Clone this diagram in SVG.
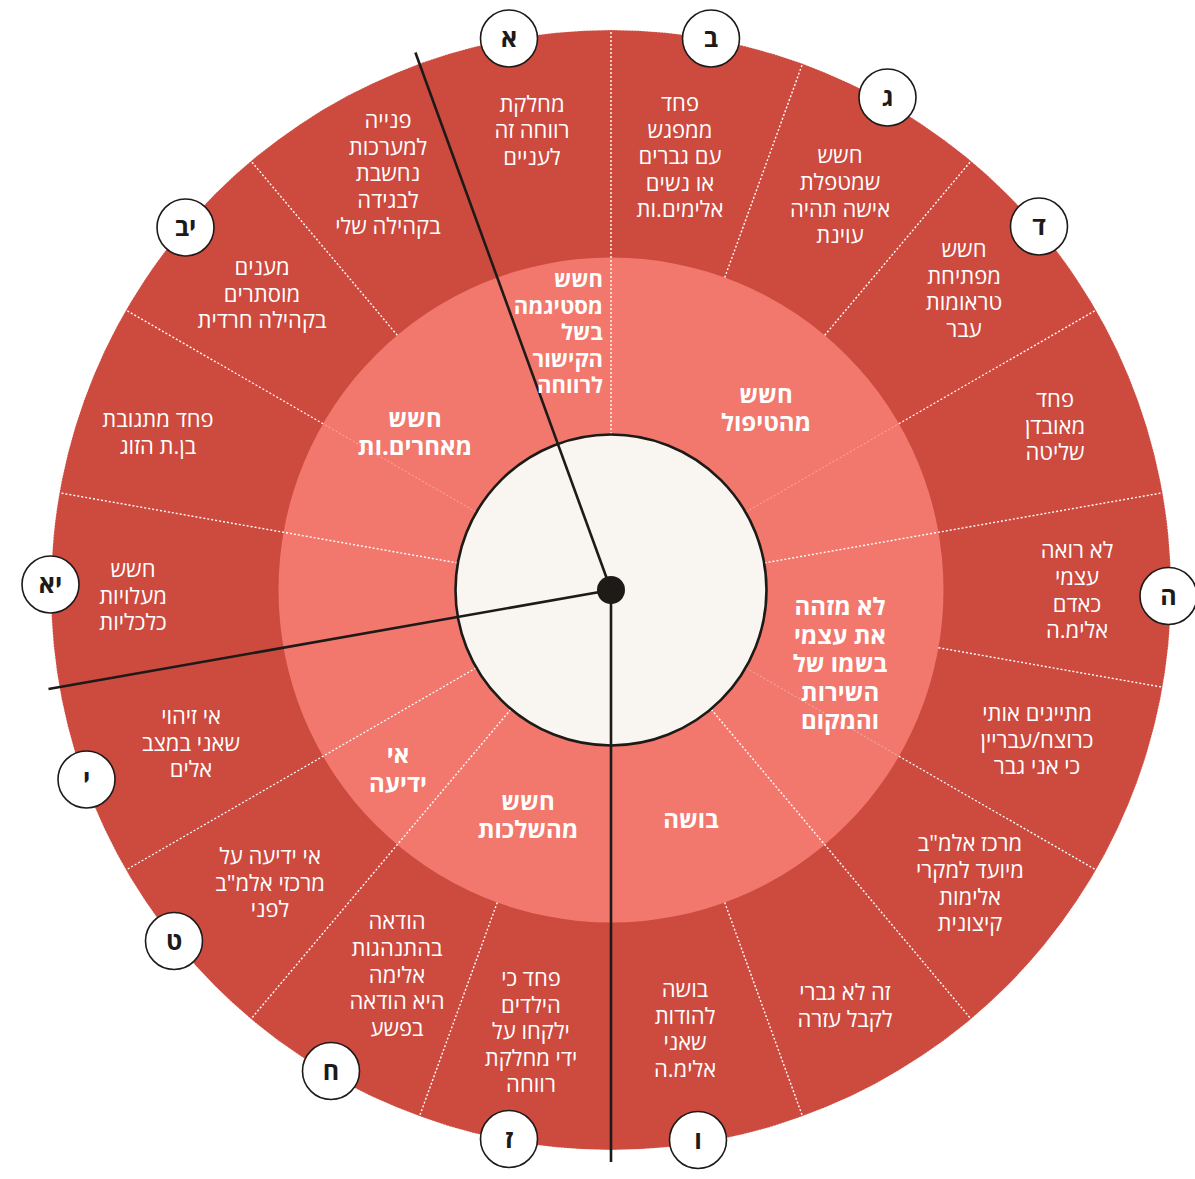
<svg xmlns="http://www.w3.org/2000/svg" width="1195" height="1179" viewBox="0 0 1195 1179">
<style>
.t{font-family:'Open Sans','Liberation Sans','DejaVu Sans',sans-serif;fill:#ffffff;text-anchor:middle}
.o{font-size:22px;font-weight:500}
.b{font-size:24px;font-weight:bold}
.s{font-size:22px}
.dv{stroke:#ffffff;stroke-width:1.4;stroke-dasharray:2 2;fill:none}
.fa{stroke:#ffffff;stroke-opacity:0.4;stroke-width:1;stroke-dasharray:2 2;fill:none}
.hand{stroke:#1d1a17;stroke-width:2.6;fill:none;stroke-linecap:butt}
.lc{fill:#ffffff;stroke:#1d1a17;stroke-width:1.6}
.lt{font-family:'Open Sans','Liberation Sans','DejaVu Sans',sans-serif;font-weight:bold;font-size:25px;fill:#1d1a17;text-anchor:middle}
</style>
<rect width="1195" height="1179" fill="#ffffff"/>
<g id="rings">
<circle cx="611" cy="590" r="560" fill="#cd4a3f"/>
<circle cx="611" cy="590" r="560" fill="none" stroke="#ffffff" stroke-width="1" stroke-dasharray="1 2" stroke-opacity="0.7"/>
<circle cx="611" cy="590" r="332.5" fill="#f2786d"/>
</g>
<g id="connectors">
<line class="dv" x1="611" y1="434" x2="611" y2="30"/>
<line class="dv" x1="724.7" y1="277.6" x2="802.5" y2="63.8"/>
<line class="dv" x1="824.7" y1="335.3" x2="971" y2="161"/>
<line class="fa" x1="746.1" y1="512" x2="898.9" y2="423.75"/>
<line class="dv" x1="898.9" y1="423.75" x2="1096" y2="310"/>
<line class="dv" x1="764.6" y1="562.9" x2="1162.5" y2="492.8"/>
<line class="dv" x1="938.4" y1="647.7" x2="1162.5" y2="687.2"/>
<line class="fa" x1="746.1" y1="668" x2="898.9" y2="756.25"/>
<line class="dv" x1="898.9" y1="756.25" x2="1096" y2="870"/>
<line class="dv" x1="711.3" y1="709.5" x2="971" y2="1019"/>
<line class="dv" x1="724.7" y1="902.4" x2="802.5" y2="1116.2"/>
<line class="dv" x1="497.3" y1="902.4" x2="419.5" y2="1116.2"/>
<line class="dv" x1="510.7" y1="709.5" x2="251" y2="1019"/>
<line class="dv" x1="475.9" y1="668" x2="126" y2="870"/>
<line class="dv" x1="457.4" y1="562.9" x2="59.5" y2="492.8"/>
<line class="fa" x1="475.9" y1="512" x2="323.1" y2="423.75"/>
<line class="dv" x1="323.1" y1="423.75" x2="126" y2="310"/>
<line class="dv" x1="397.3" y1="335.3" x2="251" y2="161"/>
</g>
<g id="center">
<circle cx="611" cy="590" r="155.5" fill="#f9f6f1" stroke="#1d1a17" stroke-width="2.6"/>
</g>
<g id="hands">
<line class="hand" x1="611" y1="590" x2="415.4" y2="52.5"/>
<line class="hand" x1="611" y1="590" x2="48.5" y2="689"/>
<line class="hand" x1="611" y1="590" x2="611" y2="1162"/>
<circle cx="611" cy="590" r="14" fill="#1d1a17"/>
</g>
<g id="inner-stigma"><text class="t b s" style="text-anchor:end"><tspan x="603" y="287">חשש</tspan><tspan x="603" y="313.5">מסטיגמה</tspan><tspan x="603" y="340">בשל</tspan><tspan x="603" y="366.5">הקישור</tspan><tspan x="603" y="393">לרווחה</tspan></text></g>
<g id="inner-treatment"><text class="t b"><tspan x="766" y="403">חשש</tspan><tspan x="766" y="431">מהטיפול</tspan></text></g>
<g id="inner-identify"><text class="t b"><tspan x="840" y="615">לא מזהה</tspan><tspan x="840" y="643.5">את עצמי</tspan><tspan x="840" y="672">בשמו של</tspan><tspan x="840" y="700.5">השירות</tspan><tspan x="840" y="729">והמקום</tspan></text></g>
<g id="inner-shame"><text class="t b"><tspan x="691" y="828">בושה</tspan></text></g>
<g id="inner-consequences"><text class="t b"><tspan x="528" y="810">חשש</tspan><tspan x="528" y="838">מהשלכות</tspan></text></g>
<g id="inner-unknown"><text class="t b"><tspan x="398" y="763">אי</tspan><tspan x="398" y="792">ידיעה</tspan></text></g>
<g id="inner-others"><text class="t b"><tspan x="415" y="427">חשש</tspan><tspan x="415" y="455">מאחרים.ות</tspan></text></g>
<g id="outer-1"><text class="t o"><tspan x="680" y="111">פחד</tspan><tspan x="680" y="137.5">ממפגש</tspan><tspan x="680" y="164">עם גברים</tspan><tspan x="680" y="190.5">או נשים</tspan><tspan x="680" y="217">אלימים.ות</tspan></text></g>
<g id="outer-2"><text class="t o"><tspan x="840" y="163">חשש</tspan><tspan x="840" y="190">שמטפלת</tspan><tspan x="840" y="216.5">אישה תהיה</tspan><tspan x="840" y="243">עוינת</tspan></text></g>
<g id="outer-3"><text class="t o"><tspan x="964" y="257">חשש</tspan><tspan x="964" y="283.5">מפתיחת</tspan><tspan x="964" y="310">טראומות</tspan><tspan x="964" y="336.5">עבר</tspan></text></g>
<g id="outer-4"><text class="t o"><tspan x="1055" y="407">פחד</tspan><tspan x="1055" y="433.5">מאובדן</tspan><tspan x="1055" y="460">שליטה</tspan></text></g>
<g id="outer-5"><text class="t o"><tspan x="1077" y="558">לא רואה</tspan><tspan x="1077" y="585">עצמי</tspan><tspan x="1077" y="611.5">כאדם</tspan><tspan x="1077" y="638">אלימ.ה</tspan></text></g>
<g id="outer-6"><text class="t o"><tspan x="1037" y="721">מתייגים אותי</tspan><tspan x="1037" y="747.5">כרוצח/עבריין</tspan><tspan x="1037" y="774">כי אני גבר</tspan></text></g>
<g id="outer-7"><text class="t o"><tspan x="970" y="851">מרכז אלמ"ב</tspan><tspan x="970" y="878">מיועד למקרי</tspan><tspan x="970" y="904.5">אלימות</tspan><tspan x="970" y="931">קיצונית</tspan></text></g>
<g id="outer-8"><text class="t o"><tspan x="845" y="1000">זה לא גברי</tspan><tspan x="845" y="1026.5">לקבל עזרה</tspan></text></g>
<g id="outer-9"><text class="t o"><tspan x="685" y="997">בושה</tspan><tspan x="685" y="1023.5">להודות</tspan><tspan x="685" y="1050">שאני</tspan><tspan x="685" y="1076.5">אלימ.ה</tspan></text></g>
<g id="outer-10"><text class="t o"><tspan x="531" y="986">פחד כי</tspan><tspan x="531" y="1012.5">הילדים</tspan><tspan x="531" y="1039">ילקחו על</tspan><tspan x="531" y="1065.5">ידי מחלקת</tspan><tspan x="531" y="1092">רווחה</tspan></text></g>
<g id="outer-11"><text class="t o"><tspan x="397" y="929">הודאה</tspan><tspan x="397" y="956">בהתנהגות</tspan><tspan x="397" y="982.5">אלימה</tspan><tspan x="397" y="1009">היא הודאה</tspan><tspan x="397" y="1035.5">בפשע</tspan></text></g>
<g id="outer-12"><text class="t o"><tspan x="270" y="864">אי ידיעה על</tspan><tspan x="270" y="890.5">מרכזי אלמ"ב</tspan><tspan x="270" y="917">לפני</tspan></text></g>
<g id="outer-13"><text class="t o"><tspan x="191" y="724">אי זיהוי</tspan><tspan x="191" y="750.5">שאני במצב</tspan><tspan x="191" y="777">אלים</tspan></text></g>
<g id="outer-14"><text class="t o"><tspan x="133" y="577">חשש</tspan><tspan x="133" y="603.5">מעלויות</tspan><tspan x="133" y="630">כלכליות</tspan></text></g>
<g id="outer-15"><text class="t o"><tspan x="158" y="427">פחד מתגובת</tspan><tspan x="158" y="453.5">בן.ת הזוג</tspan></text></g>
<g id="outer-16"><text class="t o"><tspan x="262" y="275">מענים</tspan><tspan x="262" y="301.5">מוסתרים</tspan><tspan x="262" y="328">בקהילה חרדית</tspan></text></g>
<g id="outer-17"><text class="t o"><tspan x="388" y="128">פנייה</tspan><tspan x="388" y="154.5">למערכות</tspan><tspan x="388" y="181">נחשבת</tspan><tspan x="388" y="207.5">לבגידה</tspan><tspan x="388" y="234">בקהילה שלי</tspan></text></g>
<g id="outer-18"><text class="t o"><tspan x="532" y="111.5">מחלקת</tspan><tspan x="532" y="138">רווחה זה</tspan><tspan x="532" y="164.5">לעניים</tspan></text></g>
<g id="label-a"><circle class="lc" cx="509" cy="38.5" r="28.5"/><text class="lt" x="509" y="47">א</text></g>
<g id="label-b"><circle class="lc" cx="711" cy="38.5" r="28.5"/><text class="lt" x="711" y="47">ב</text></g>
<g id="label-g"><circle class="lc" cx="887.5" cy="97.5" r="28.5"/><text class="lt" x="887.5" y="106">ג</text></g>
<g id="label-d"><circle class="lc" cx="1039" cy="226.5" r="28.5"/><text class="lt" x="1039" y="235">ד</text></g>
<g id="label-h"><circle class="lc" cx="1168.5" cy="596" r="28.5"/><text class="lt" x="1168.5" y="604.5">ה</text></g>
<g id="label-v"><circle class="lc" cx="698" cy="1140" r="28.5"/><text class="lt" x="698" y="1148.5">ו</text></g>
<g id="label-z"><circle class="lc" cx="509" cy="1139" r="28.5"/><text class="lt" x="509" y="1147.5">ז</text></g>
<g id="label-het"><circle class="lc" cx="331" cy="1071" r="28.5"/><text class="lt" x="331" y="1079.5">ח</text></g>
<g id="label-tet"><circle class="lc" cx="174" cy="941" r="28.5"/><text class="lt" x="174" y="949.5">ט</text></g>
<g id="label-yod"><circle class="lc" cx="86.5" cy="779.5" r="28.5"/><text class="lt" x="86.5" y="788">י</text></g>
<g id="label-ya"><circle class="lc" cx="50.5" cy="584.5" r="28.5"/><text class="lt" x="50.5" y="593">יא</text></g>
<g id="label-yb"><circle class="lc" cx="185.5" cy="227.5" r="28.5"/><text class="lt" x="185.5" y="236">יב</text></g>
</svg>
